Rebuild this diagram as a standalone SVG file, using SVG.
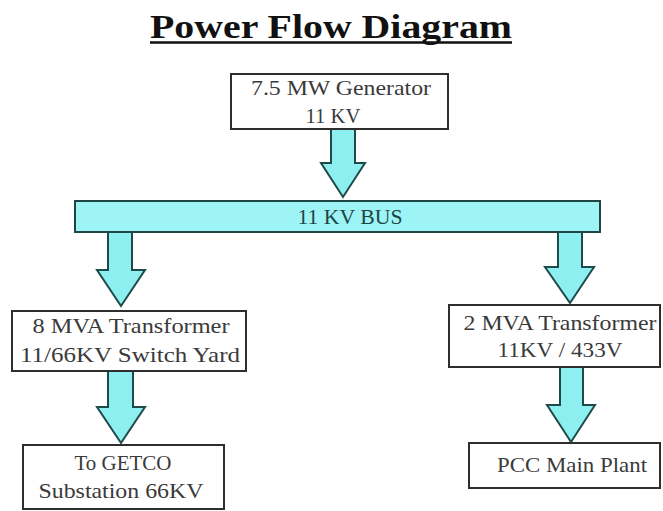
<svg xmlns="http://www.w3.org/2000/svg" width="663" height="511" viewBox="0 0 663 511">
<style>
.box{fill:#ffffff;stroke:#2e2e2e;stroke-width:2}
.bus{fill:#9ef4f4;stroke:#1f4545;stroke-width:2}
.arr{fill:#8eeff0;stroke:#1f4a4a;stroke-width:2;stroke-linejoin:miter}
.t{font-family:"Liberation Serif","Times New Roman",serif;font-size:21px;fill:#3a3a3a;text-anchor:middle}
.tb{font-family:"Liberation Serif","Times New Roman",serif;font-size:21px;fill:#1c4646;text-anchor:middle}
.title{font-family:"Liberation Serif","Times New Roman",serif;font-size:34px;font-weight:bold;fill:#111111;text-anchor:middle}
</style>
<rect width="663" height="511" fill="#ffffff"/>
<g id="title">
<text class="title" x="331" y="38" textLength="362" lengthAdjust="spacingAndGlyphs">Power Flow Diagram</text>
<line x1="150" y1="42.5" x2="512" y2="42.5" stroke="#111111" stroke-width="2.5"/>
</g>
<g id="connectors">
<path class="arr" d="M331,129 V163 H321 L343,197 L365,163 H355 V129"/>
<path class="arr" d="M108,232 V270 H97 L121,306 L145,270 H132 V232"/>
<path class="arr" d="M558,232 V267 H545 L570,303 L594,267 H582 V232"/>
<path class="arr" d="M108,371 V407 H97 L121,443 L145,407 H133 V371"/>
<path class="arr" d="M560,367 V405 H547 L571,442 L595,405 H583 V367"/>
</g>
<g id="generator">
<rect class="box" x="231" y="74" width="217" height="55"/>
<text class="t" x="341" y="95" textLength="180" lengthAdjust="spacingAndGlyphs">7.5 MW Generator</text>
<text class="t" x="333" y="123" textLength="55" lengthAdjust="spacingAndGlyphs">11 KV</text>
</g>
<g id="bus">
<rect class="bus" x="75" y="201" width="525" height="31"/>
<text class="tb" x="350" y="224" textLength="105" lengthAdjust="spacingAndGlyphs">11 KV BUS</text>
</g>
<g id="transformer8">
<rect class="box" x="12" y="311" width="234" height="60"/>
<text class="t" x="131" y="333" textLength="197" lengthAdjust="spacingAndGlyphs">8 MVA Transformer</text>
<text class="t" x="130" y="362" textLength="220" lengthAdjust="spacingAndGlyphs">11/66KV Switch Yard</text>
</g>
<g id="transformer2">
<rect class="box" x="449" y="305" width="211" height="62"/>
<text class="t" x="560" y="330" textLength="193" lengthAdjust="spacingAndGlyphs">2 MVA Transformer</text>
<text class="t" x="560" y="357" textLength="125" lengthAdjust="spacingAndGlyphs">11KV / 433V</text>
</g>
<g id="getco">
<rect class="box" x="23" y="445" width="201" height="64"/>
<text class="t" x="123" y="470" textLength="97" lengthAdjust="spacingAndGlyphs">To GETCO</text>
<text class="t" x="121" y="498" textLength="165" lengthAdjust="spacingAndGlyphs">Substation 66KV</text>
</g>
<g id="pcc">
<rect class="box" x="469" y="443" width="191" height="45"/>
<text class="t" x="572" y="472" textLength="150" lengthAdjust="spacingAndGlyphs">PCC Main Plant</text>
</g>
</svg>
